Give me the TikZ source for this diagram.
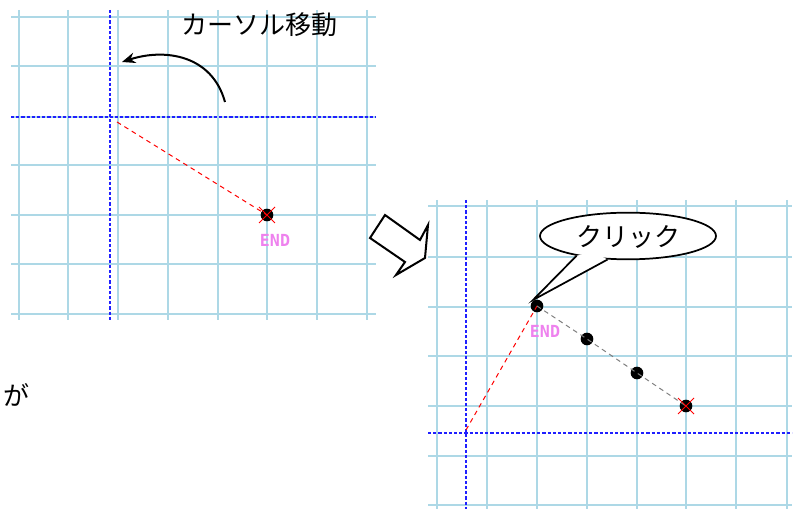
\documentclass[tikz,border=0pt]{standalone}
\usepackage{fontspec}
\newfontfamily\jpfont{Noto Sans CJK JP}
\newfontfamily\monofont{DejaVu Sans Mono}
\usetikzlibrary{shapes.geometric,arrows.meta}
\definecolor{gridblue}{HTML}{ADD8E6}
\definecolor{endpink}{HTML}{EE82EE}
\definecolor{cursorblue}{HTML}{2020FF}
\tikzset{
  gridline/.style={draw=gridblue,line width=1.3pt},
  cursorline/.style={draw=cursorblue,line width=0.9pt,dash pattern=on 2.4pt off 1.5pt},
  rubber/.style={draw=red,line width=0.75pt,dash pattern=on 3.5pt off 3pt},
  guide/.style={draw=gray,line width=0.75pt,dash pattern=on 3.5pt off 3pt},
  pointdot/.style={circle,fill=black,inner sep=0pt,minimum size=9.5pt},
  endmark/.style={draw=red,line width=0.6pt},
  endlabel/.style={text=endpink,font=\monofont\bfseries\fontsize{12.5pt}{12.5pt}\selectfont,inner sep=0pt},
  jptext/.style={font=\jpfont\fontsize{19.5pt}{19.5pt}\selectfont,inner sep=0pt},
  outline/.style={draw=black,line width=1.3pt,line join=miter},
}
\begin{document}
\begin{tikzpicture}[x=0.75pt,y=-0.75pt]
\useasboundingbox (0,0) rectangle (801,509);
% ---------- left grid
\foreach \x in {19,68,118,168,218,267,317,367} \draw[gridline] (\x,10) -- (\x,320);
\foreach \y in {17,66,117,165,215,264,314} \draw[gridline] (11,\y) -- (376,\y);
\draw[cursorline] (110,10) -- (110,320);
\draw[cursorline] (11,117) -- (376,117);
% ---------- right grid
\foreach \x in {437,487,537,587,637,686,736,787} \draw[gridline] (\x,200) -- (\x,509);
\foreach \y in {206,257,307,356,406,456,505} \draw[gridline] (428,\y) -- (792,\y);
\draw[cursorline] (466,200) -- (466,509);
\draw[cursorline] (428,433) -- (792,433);
% ---------- left content
\coordinate (lstart) at (117,122);
\node[pointdot] (lend) at (267,215) {};
\draw[rubber] (lstart) -- (lend.center);
\draw[endmark] (259,207) -- (275,223);
\draw[endmark] (259,223) -- (275,207);
\node[endlabel] (lendlabel) at (275,240) {END};
\coordinate (arrstart) at (225,102);
\coordinate (arrend) at (122,62);
\draw[line width=1.5pt,-{Stealth[length=10pt,width=8pt]}] (arrstart) .. controls (212,55) and (165,48) .. (arrend);
\node[jptext] (move) at (259,25) {カーソル移動};
% ---------- hollow arrow
\draw[outline,line width=1.5pt] (385,215) -- (420,240) -- (428,225) -- (425,258) -- (396,275) -- (405,262) -- (370,238) -- cycle;
% ---------- left text
\node[jptext,anchor=west] (ga) at (3,395) {が};
% ---------- right content
\node[pointdot] (p1) at (537,306) {};
\node[pointdot] (p2) at (587,339) {};
\node[pointdot] (p3) at (637,373) {};
\node[pointdot] (p4) at (686,406) {};
\coordinate (rstart) at (466,430);
\draw[rubber] (rstart) -- (p1.center);
\draw[guide] (p1.center) -- (p2.center) -- (p3.center) -- (p4.center);
\draw[endmark] (678,398) -- (694,414);
\draw[endmark] (678,414) -- (694,398);
\node[endlabel] (rendlabel) at (545,331) {END};
% ---------- callout
\node[ellipse,draw=black,line width=1.3pt,fill=white,minimum width=132pt,minimum height=35pt,inner sep=0pt] (bubble) at (628,236) {};
\coordinate (tip) at (533,300);
\coordinate (inner) at (593,252);
\fill[white] (bubble.201) -- (tip) -- (bubble.229) -- (inner) -- cycle;
\draw[black,line width=1.3pt,line join=miter] (bubble.201) -- (tip) -- (bubble.229);
\node[jptext] (click) at (628,237) {クリック};
\end{tikzpicture}
\end{document}
